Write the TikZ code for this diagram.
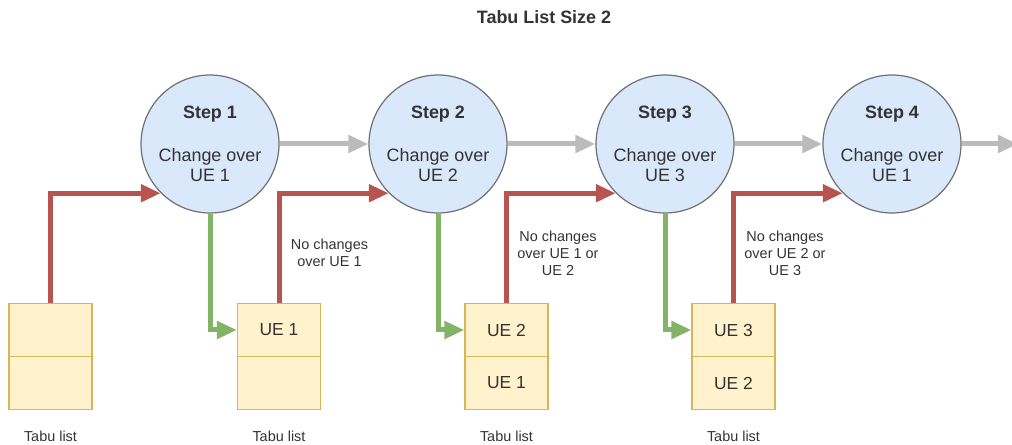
\documentclass[tikz,border=0pt]{standalone}
\usepackage{fontspec}
\setmainfont{Liberation Sans}
\usetikzlibrary{arrows.meta}
\definecolor{txt}{HTML}{333333}
\definecolor{stepfill}{HTML}{DAE8FC}
\definecolor{stepline}{HTML}{707070}
\definecolor{cellfill}{HTML}{FFF2CC}
\definecolor{cellline}{HTML}{D6B656}
\definecolor{flowgray}{HTML}{BBBBBB}
\definecolor{flowred}{HTML}{B85450}
\definecolor{flowgreen}{HTML}{82B366}
\tikzset{
  stepnode/.style={circle, minimum size=138bp, inner sep=0pt, fill=stepfill,
    draw=stepline, line width=1.2bp, text=txt, align=center,
    font=\fontsize{18}{20}\selectfont},
  cell/.style={rectangle, minimum width=83bp, minimum height=53bp, inner sep=0pt,
    fill=cellfill, draw=cellline, line width=1.2bp, text=txt,
    font=\fontsize{17.5}{20}\selectfont},
  caption/.style={text=txt, align=center, font=\fontsize{14.5}{17}\selectfont},
  flow/.style={line width=5bp, -{Triangle[length=20bp,width=17bp]}},
  advance/.style={flow, draw=flowgray},
  keep/.style={flow, draw=flowred},
  record/.style={flow, draw=flowgreen},
}
\begin{document}
\begin{tikzpicture}[x=1bp, y=-1bp]
\useasboundingbox (0,0) rectangle (1012,445);

\node[text=txt, font=\bfseries\fontsize{18}{20}\selectfont] (title) at (544,17) {Tabu List Size 2};

% search steps
\node[stepnode] (s1) at (210,144) {\textbf{Step 1}\\[23bp]Change over\\UE 1};
\node[stepnode] (s2) at (438,144) {\textbf{Step 2}\\[23bp]Change over\\UE 2};
\node[stepnode] (s3) at (665,144) {\textbf{Step 3}\\[23bp]Change over\\UE 3};
\node[stepnode] (s4) at (892,144) {\textbf{Step 4}\\[23bp]Change over\\UE 1};
\coordinate (next) at (1018,144);

% tabu lists (two slots each)
\node[cell] (t0a) at (50.5,330) {};
\node[cell] (t0b) at (50.5,383) {};
\node[cell] (t1a) at (279,330) {UE 1};
\node[cell] (t1b) at (279,383) {};
\node[cell] (t2a) at (506.5,330) {UE 2};
\node[cell] (t2b) at (506.5,383) {UE 1};
\node[cell] (t3a) at (733.5,330) {UE 3};
\node[cell] (t3b) at (733.5,383) {UE 2};

\node[caption] (c0) at (50.5,436) {Tabu list};
\node[caption] (c1) at (279,436) {Tabu list};
\node[caption] (c2) at (506.5,436) {Tabu list};
\node[caption] (c3) at (733.5,436) {Tabu list};

% constraints passed to the next step
\node[caption] (n1) at (329.5,253) {No changes\\over UE 1};
\node[caption] (n2) at (558,253) {No changes\\over UE 1 or\\UE 2};
\node[caption] (n3) at (785,253) {No changes\\over UE 2 or\\UE 3};

% step sequence
\draw[advance] (s1.east) -- (s2.west);
\draw[advance] (s2.east) -- (s3.west);
\draw[advance] (s3.east) -- (s4.west);
\draw[advance] (s4.east) -- (next);

% tabu list feeds the next step
\draw[keep] (t0a.north) |- (s1.225);
\draw[keep] (t1a.north) |- (s2.225);
\draw[keep] (t2a.north) |- (s3.225);
\draw[keep] (t3a.north) |- (s4.225);

% each step is recorded in the tabu list
\draw[record] (s1.south) |- (t1a.west);
\draw[record] (s2.south) |- (t2a.west);
\draw[record] (s3.south) |- (t3a.west);
\end{tikzpicture}
\end{document}
